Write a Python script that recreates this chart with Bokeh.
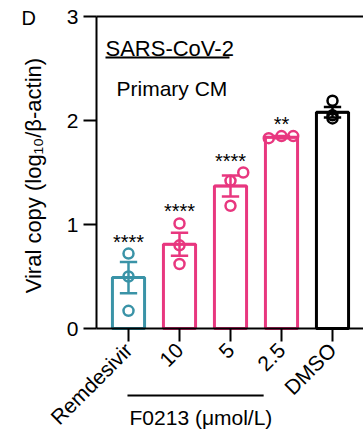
from math import pi
from bokeh.plotting import figure
from bokeh.models import Range1d, FixedTicker, LinearAxis, ColumnDataSource
from bokeh.embed import file_html
from bokeh.resources import INLINE
from bokeh.core.properties import value

# ---- data ----
categories = ["Remdesivir", "10", "5", "2.5", "DMSO"]
means = [0.49, 0.81, 1.37, 1.84, 2.08]
sems = [0.15, 0.11, 0.10, 0.01, 0.05]
points = [
    [0.72, 0.50, 0.17],
    [1.01, 0.80, 0.62],
    [1.50, 1.42, 1.18],
    [1.83, 1.85, 1.85],
    [2.19, 2.05, 2.02],
]
point_jitter = [
    [0, 0, 0],
    [0, 0, 0],
    [0.25, 0, 0],
    [-0.25, 0, 0.23],
    [0, 0, 0],
]
stars = ["****", "****", "****", "**", ""]
colors = ["#3a93a7", "#e8377f", "#e8377f", "#e8377f", "#000000"]
y_ticks = [0, 1, 2, 3]

FONT = "Liberation Sans"
W, H = 363, 432
X0_PX, PX_PER_X = 128, 51      # canvas x of first category, px per category
Y0_PX, PX_PER_Y = 328, 104     # canvas y of value 0, px per unit
AX_X = (96 - X0_PX) / PX_PER_X  # where the y axis sits (data x)
X_END = (W - X0_PX) / PX_PER_X

p = figure(width=W, height=H, output_backend="svg", toolbar_location=None,
           x_range=Range1d(-X0_PX / PX_PER_X, X_END),
           y_range=Range1d(-(H - Y0_PX) / PX_PER_Y, Y0_PX / PX_PER_Y),
           x_axis_location=None, y_axis_location=None, min_border=0)
p.outline_line_color = None
p.grid.visible = False
p.background_fill_color = "white"
p.border_fill_color = "white"

xs = list(range(len(categories)))
cap = 0.17
mw = 0.3
src = ColumnDataSource(dict(x=xs, top=means, color=colors,
                            lo=[m - s for m, s in zip(means, sems)],
                            hi=[m + s for m, s in zip(means, sems)],
                            cl=[x - cap for x in xs], cr=[x + cap for x in xs],
                            ml=[x - mw for x in xs], mr=[x + mw for x in xs]))
p.vbar(x="x", top="top", bottom=0, width=0.63, source=src, fill_color="white",
       line_color="color", line_width=3)

px, py, pc = [], [], []
for i, (pts, jit) in enumerate(zip(points, point_jitter)):
    for v, j in zip(pts, jit):
        px.append(i + j)
        py.append(v)
        pc.append(colors[i])
p.scatter(px, py, marker="circle", size=10, fill_alpha=0, line_color=pc, line_width=2.5)

p.segment(x0="x", x1="x", y0="lo", y1="hi", source=src, line_color="color", line_width=2.5)
p.segment(x0="cl", x1="cr", y0="hi", y1="hi", source=src, line_color="color", line_width=2.5)
p.segment(x0="cl", x1="cr", y0="lo", y1="lo", source=src, line_color="color", line_width=2.5)
p.segment(x0="ml", x1="mr", y0="top", y1="top", source=src, line_color="color", line_width=2.5)

star_y = [max(pts) for pts in points]
p.text(x=xs, y=star_y, text=stars, text_align="center", text_baseline="middle",
       y_offset=-12, text_font=value(FONT), text_font_size="20px", text_color="black")

# axes (fixed at the data origin so the frame can fill the canvas)
yax = LinearAxis(fixed_location=AX_X, bounds=(0, 3), ticker=FixedTicker(ticks=y_ticks))
xax = LinearAxis(fixed_location=0, bounds=(AX_X, X_END), ticker=FixedTicker(ticks=xs),
                 major_label_overrides={i: c for i, c in enumerate(categories)},
                 major_label_orientation=pi / 4)
for ax in (xax, yax):
    ax.axis_line_width = 2
    ax.axis_line_color = "black"
    ax.major_tick_line_width = 2
    ax.major_tick_line_color = "black"
    ax.major_tick_out = 13
    ax.major_tick_in = 0
    ax.minor_tick_line_color = None
    ax.major_label_text_font = FONT
    ax.major_label_text_font_size = "21px"
    ax.major_label_text_color = "black"
    ax.major_label_standoff = 5
p.add_layout(yax, "left")
p.add_layout(xax, "below")

# top spine
p.segment(x0=[AX_X], x1=[X_END], y0=[3], y1=[3], line_color="black", line_width=2)

# y axis title
p.text(x=[(33 - X0_PX) / PX_PER_X], y=[1.47], text=["Viral copy (log\u2081\u2080/\u03b2-actin)"],
       angle=pi / 2, text_align="center", text_baseline="alphabetic",
       text_font=value(FONT), text_font_size="22px", text_color="black")

# annotations
p.text(x=[-0.451], y=[2.692], text=["SARS-CoV-2"], text_font=value(FONT),
       text_font_size="22px", text_baseline="alphabetic", text_color="black")
p.segment(x0=[-0.451], x1=[1.98], y0=[2.606], y1=[2.606], line_color="black", line_width=2)
p.text(x=[-0.235], y=[2.308], text=["Primary CM"], text_font=value(FONT),
       text_font_size="21px", text_baseline="alphabetic", text_color="black")
p.text(x=[(21 - X0_PX) / PX_PER_X], y=[2.99], text=["D"], text_font=value(FONT),
       text_font_size="20px", text_baseline="middle", text_color="black")
p.segment(x0=[-0.02], x1=[2.65], y0=[-0.644], y1=[-0.644], line_color="black", line_width=2)
p.text(x=[1.42], y=[-0.856], text=["F0213 (\u03bcmol/L)"], text_font=value(FONT),
       text_font_size="21px", text_align="center", text_baseline="middle", text_color="black")

open("out.html", "w").write(file_html(p, INLINE))
